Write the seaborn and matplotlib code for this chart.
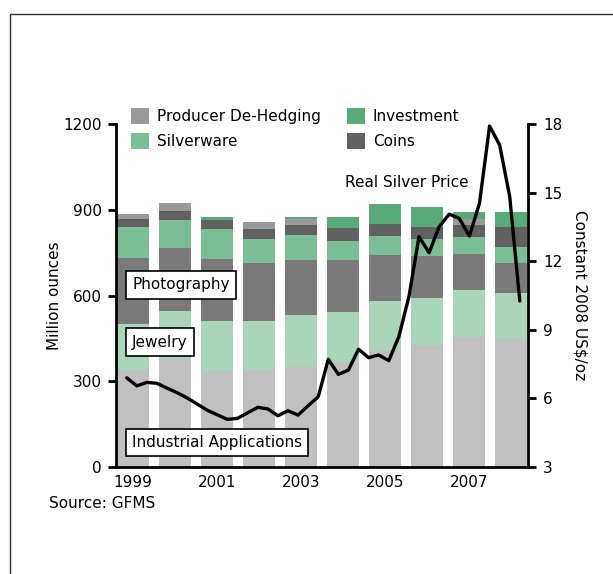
import numpy as np
import pandas as pd
import matplotlib
matplotlib.use("Agg")
import matplotlib.pyplot as plt
from matplotlib.patches import Patch, Rectangle
import seaborn as sns

sns.set_style("white")
plt.rcParams['font.family'] = ['DejaVu Sans']
plt.rcParams['text.color'] = 'black'
plt.rcParams['axes.labelcolor'] = 'black'
plt.rcParams['xtick.color'] = 'black'
plt.rcParams['ytick.color'] = 'black'

years = ["1999", "2000", "2001", "2002", "2003", "2004", "2005", "2006", "2007", "2008"]
industrial = [339, 377, 336, 339, 350, 367, 405, 426, 455, 448]
jewelry = [161, 170, 175, 171, 181, 177, 176, 166, 164, 160]
photography = [230, 220, 216, 205, 193, 180, 161, 145, 126, 107]
silverware = [110, 96, 106, 84, 86, 68, 66, 62, 60, 56]
coins = [29, 34, 31, 34, 37, 44, 43, 42, 40, 68]
dehedging = [16, 28, 0, 25, 22, 0, 0, 0, 23, 0]
investment = [0, 0, 11, 0, 5, 37, 69, 70, 25, 54]

# quarterly real silver price, 1999 Q1 - 2008 Q4 (constant 2008 US$/oz)
price = [6.90, 6.55, 6.70, 6.66, 6.45, 6.25, 6.02, 5.75, 5.48, 5.28,
         5.08, 5.13, 5.37, 5.61, 5.54, 5.24, 5.46, 5.27, 5.68, 6.07,
         7.71, 7.05, 7.24, 8.15, 7.78, 7.90, 7.65, 8.70, 10.45, 13.07,
         12.37, 13.51, 14.06, 13.87, 13.10, 14.53, 17.91, 17.08, 14.82, 10.26]

layers = [
    ("Industrial Applications", industrial, "#c0c0c0"),
    ("Jewelry", jewelry, "#a9d5b9"),
    ("Photography", photography, "#7a7a7a"),
    ("Silverware", silverware, "#7abf93"),
    ("Coins", coins, "#616161"),
    ("Producer De-Hedging", dehedging, "#999999"),
    ("Investment", investment, "#58ab78"),
]
colors = {n: c for n, _, c in layers}

W, H = 613, 574
fig = plt.figure(figsize=(W / 100, H / 100), dpi=100)
ax = fig.add_axes([116 / W, (H - 467) / H, 412 / W, 343 / H])

bottom = np.zeros(len(years))
for name, vals, col in layers:
    df = pd.DataFrame({"year": years, "v": vals})
    sns.barplot(data=df, x="year", y="v", order=years, color=col, width=0.76,
                bottom=bottom, ax=ax, saturation=1, linewidth=0, errorbar=None)
    bottom = bottom + np.array(vals)

ax.set_xlim(-0.405, 9.405)
ax.set_ylim(0, 1200)
ax.set_yticks([0, 300, 600, 900, 1200])
ax.set_xticks([0, 2, 4, 6, 8])
ax.set_xticklabels(["1999", "2001", "2003", "2005", "2007"])
ax.set_xlabel("")
ax.set_ylabel("Million ounces", fontsize=11)
ax.yaxis.set_label_coords(-0.131, 0.5)
for s in ["top", "right"]:
    ax.spines[s].set_visible(False)
for s in ["left", "bottom"]:
    ax.spines[s].set_linewidth(2.0)
    ax.spines[s].set_color("black")
ax.tick_params(axis="y", direction="out", length=6, width=2, pad=4, labelsize=11, left=True)
ax.tick_params(axis="x", length=0, pad=6, labelsize=11)

box = dict(boxstyle="square,pad=0.4", fc="white", ec="black", lw=1.2)
ax.text(-0.02, 637, "Photography", fontsize=11, ha="left", va="center", bbox=box, zorder=5)
ax.text(-0.02, 437, "Jewelry", fontsize=11, ha="left", va="center", bbox=box, zorder=5)
ax.text(-0.02, 87, "Industrial Applications", fontsize=11, ha="left", va="center", bbox=box, zorder=5)

ax2 = ax.twinx()
qx = np.linspace(-0.15, 9.21, len(price))
sns.lineplot(x=qx, y=price, ax=ax2, color="black", linewidth=2.4)
ax2.set_ylim(3, 18)
ax2.set_yticks([3, 6, 9, 12, 15, 18])
ax2.set_xlim(-0.405, 9.405)
for s in ["top", "left", "bottom"]:
    ax2.spines[s].set_visible(False)
ax2.spines["right"].set_linewidth(2.0)
ax2.spines["right"].set_color("black")
ax2.tick_params(axis="y", direction="out", length=6, width=2, pad=5, labelsize=11, right=True)
ax2.set_ylabel("Constant 2008 US$/oz", fontsize=11, rotation=-90, va="bottom")
ax2.yaxis.set_label_coords(1.107, 0.5)
ax2.text(5.05, 15.46, "Real Silver Price", fontsize=11, ha="left", va="center")

handles = [Patch(fc=colors[n], ec="none", label=n) for n in
           ["Producer De-Hedging", "Silverware", "Investment", "Coins"]]
fig.legend(handles=handles, loc="upper left", bbox_to_anchor=(131 / W, 1 - 108 / H),
           ncol=2, frameon=False, borderpad=0, borderaxespad=0, fontsize=11,
           handlelength=1.2, handleheight=1.2, handletextpad=0.5,
           columnspacing=1.7, labelspacing=0.6)

fig.text(49 / W, 1 - 504 / H, "Source: GFMS", fontsize=11, ha="left", va="center")

fig.patches.append(Rectangle((9.5 / W, -0.2), 1.2, 0.2 + (H - 14) / H,
                             transform=fig.transFigure, fill=False, ec="#333333", lw=1.0))

fig.savefig("out.png", dpi=100, facecolor="white")
